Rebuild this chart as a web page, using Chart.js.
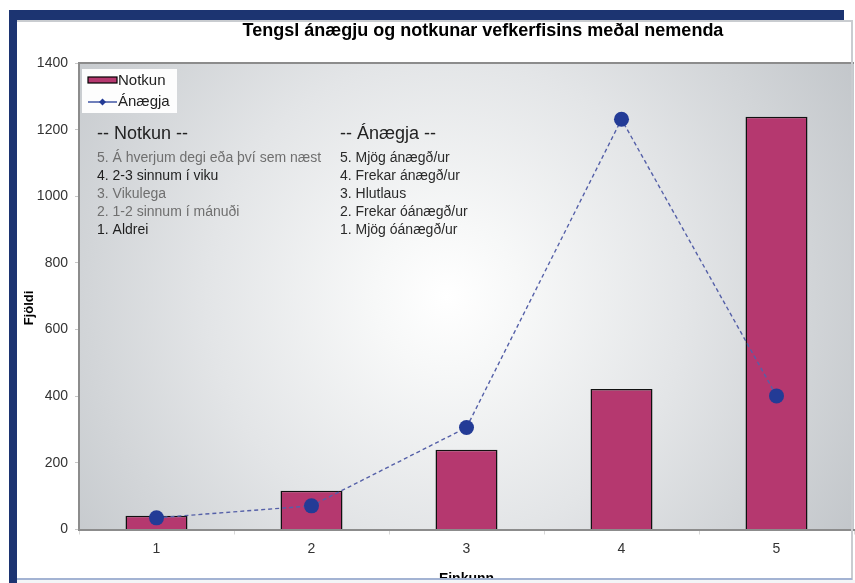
<!DOCTYPE html>
<html>
<head>
<meta charset="utf-8">
<script src="https://cdn.jsdelivr.net/npm/chart.js@4.4.1/dist/chart.umd.min.js"></script>
<style>
    html, body { margin: 0; padding: 0; background: #fff; overflow: hidden; }
    #graf { display: block; }
</style>
</head>
<body>
<canvas id="graf" width="855" height="583"></canvas>
<script>
const einkunnir = ["1", "2", "3", "4", "5"];
const notkun = [41, 116, 239, 422, 1239];
const anaegja = [35, 71, 306, 1231, 401];
const yMin = 0;
const yMax = 1400;
const yStep = 200;

const titill = "Tengsl ánægju og notkunar vefkerfisins meðal nemenda";
const xTitill = "Einkunn";
const yTitill = "Fjöldi";

const notkunSkyring = ["-- Notkun --", "5. Á hverjum degi eða því sem næst", "4. 2-3 sinnum í viku", "3. Vikulega", "2. 1-2 sinnum í mánuði", "1. Aldrei"];
const notkunLitir = ["#222", "#6f6f6f", "#1e1e1e", "#6f6f6f", "#6f6f6f", "#1e1e1e"];
const anaegjaSkyring = ["-- Ánægja --", "5. Mjög ánægð/ur", "4. Frekar ánægð/ur", "3. Hlutlaus", "2. Frekar óánægð/ur", "1. Mjög óánægð/ur"];

const LETUR = "'Liberation Sans', Arial, sans-serif";
const SULU_LITUR = "#b5386f";
const PUNKT_LITUR = "#233b96";
const LINU_LITUR = "#5560a8";

const skreyting = {
    id: "skreyting",
    beforeDraw(chart) {
        const { ctx, chartArea: a } = chart;
        ctx.save();
        ctx.fillStyle = "#fff";
        ctx.fillRect(0, 0, chart.width, chart.height);

        const cx = a.left + (a.right - a.left) * 0.475;
        const cy = a.top + (a.bottom - a.top) * 0.5;
        const g = ctx.createRadialGradient(cx, cy, 0, cx, cy, 480);
        g.addColorStop(0, "#ffffff");
        g.addColorStop(0.15, "#f7f8f8");
        g.addColorStop(0.5, "#e3e5e7");
        g.addColorStop(1, "#c1c5c9");
        ctx.fillStyle = g;
        ctx.fillRect(a.left, a.top, a.right - a.left, a.bottom - a.top);

        ctx.strokeStyle = "#8c8c8c";
        ctx.lineWidth = 2;
        ctx.beginPath();
        ctx.moveTo(a.left, a.top);
        ctx.lineTo(a.right, a.top);
        ctx.stroke();
        ctx.restore();
    },
    afterDraw(chart) {
        const { ctx, chartArea: a } = chart;
        ctx.save();

        // skýringar (legend)
        ctx.fillStyle = "rgba(255,255,255,0.95)";
        ctx.fillRect(82, 69, 95, 44);
        ctx.fillStyle = SULU_LITUR;
        ctx.fillRect(88, 77, 29, 6);
        ctx.strokeStyle = "#000";
        ctx.lineWidth = 1.2;
        ctx.strokeRect(88, 77, 29, 6);
        ctx.strokeStyle = PUNKT_LITUR;
        ctx.lineWidth = 1.3;
        ctx.beginPath();
        ctx.moveTo(88, 102);
        ctx.lineTo(117, 102);
        ctx.stroke();
        ctx.fillStyle = PUNKT_LITUR;
        ctx.beginPath();
        ctx.moveTo(102.5, 98.5);
        ctx.lineTo(106, 102);
        ctx.lineTo(102.5, 105.5);
        ctx.lineTo(99, 102);
        ctx.closePath();
        ctx.fill();
        ctx.fillStyle = "#222";
        ctx.font = "15px " + LETUR;
        ctx.textBaseline = "middle";
        ctx.fillText(chart.data.datasets[1].label, 118, 81);
        ctx.fillText(chart.data.datasets[0].label, 118, 102);

        // texti um kvarða
        const linur = [134, 158, 176, 194, 212, 230];
        notkunSkyring.forEach((t, i) => {
            ctx.font = (i === 0 ? "18px " : "14px ") + LETUR;
            ctx.fillStyle = notkunLitir[i];
            ctx.fillText(t, 97, linur[i]);
        });
        anaegjaSkyring.forEach((t, i) => {
            ctx.font = (i === 0 ? "18px " : "14px ") + LETUR;
            ctx.fillStyle = i === 0 ? "#222" : "#2a2a2a";
            ctx.fillText(t, 340, linur[i]);
        });

        // titlar
        ctx.fillStyle = "#000";
        ctx.textAlign = "center";
        ctx.textBaseline = "alphabetic";
        ctx.font = "bold 18px " + LETUR;
        ctx.fillText(titill, 483, 36);
        ctx.font = "bold 14px " + LETUR;
        ctx.fillText(xTitill, (a.left + a.right) / 2, 583);
        ctx.save();
        ctx.translate(33, 308);
        ctx.rotate(-Math.PI / 2);
        ctx.font = "bold 13px " + LETUR;
        ctx.fillText(yTitill, 0, 0);
        ctx.restore();

        // rammi
        ctx.fillStyle = "#c9ccd0";
        ctx.fillRect(17, 20, 835, 2);
        ctx.fillRect(851, 20, 2, 560);
        ctx.fillStyle = "#a3b3d3";
        ctx.fillRect(17, 578, 835, 2);
        ctx.fillStyle = "#f3f5f7";
        ctx.fillRect(17, 580, 838, 3);
        ctx.fillStyle = "#1c3471";
        ctx.fillRect(9, 10, 835, 10);
        ctx.fillRect(9, 10, 8, 573);
        ctx.restore();
    }
};

new Chart(document.getElementById("graf"), {
    data: {
        labels: einkunnir,
        datasets: [
            {
                type: "line",
                label: "Ánægja",
                data: anaegja,
                order: 0,
                borderColor: LINU_LITUR,
                borderWidth: 1.4,
                borderDash: [4, 3],
                pointRadius: 7.5,
                pointBackgroundColor: PUNKT_LITUR,
                pointBorderColor: PUNKT_LITUR,
                pointBorderWidth: 0,
                tension: 0
            },
            {
                type: "bar",
                label: "Notkun",
                data: notkun,
                order: 1,
                backgroundColor: SULU_LITUR,
                borderColor: "#111",
                borderWidth: 1.5,
                categoryPercentage: 1,
                barPercentage: 0.4
            }
        ]
    },
    options: {
        responsive: false,
        animation: false,
        devicePixelRatio: 1,
        layout: { autoPadding: false, padding: { left: 0, top: 63, right: 1, bottom: 0 } },
        plugins: {
            legend: { display: false },
            tooltip: { enabled: false },
            title: { display: false }
        },
        scales: {
            x: {
                type: "category",
                offset: true,
                grid: { display: true, drawOnChartArea: false, offset: true, tickLength: 5, color: "#d8d8d8" },
                border: { color: "#8c8c8c", width: 2 },
                ticks: { color: "#333", font: { family: LETUR, size: 14 }, padding: 6 },
                afterFit(scale) {
                    scale.height = 53.5;
                }
            },
            y: {
                min: yMin,
                max: yMax,
                grid: { display: true, drawOnChartArea: false, tickLength: 4, color: "#c8c8c8" },
                border: { color: "#8c8c8c", width: 2 },
                ticks: {
                    stepSize: yStep,
                    color: "#333",
                    font: { family: LETUR, size: 14 },
                    padding: 7,
                    callback: (v) => String(v)
                },
                afterFit(scale) { scale.width = 79; }
            }
        }
    },
    plugins: [skreyting]
});
</script>
</body>
</html>
